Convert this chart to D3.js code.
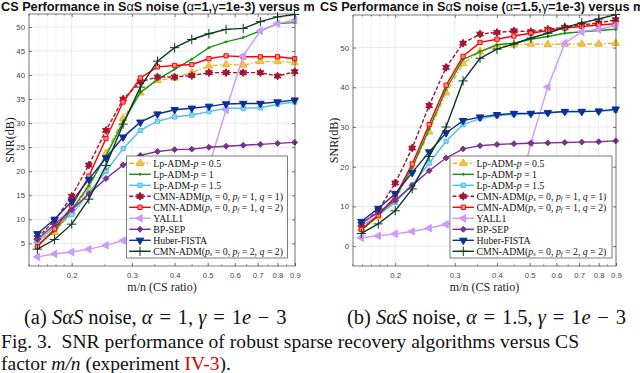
<!DOCTYPE html>
<html>
<head>
<meta charset="utf-8">
<script src="https://cdn.jsdelivr.net/npm/d3@7"></script>
<style>
  body { margin: 0; background: #fff; }
  svg { display: block; }
</style>
</head>
<body>
<svg id="fig" width="640" height="373"></svg>
<script>
// m/n values (CS ratio), shared by both panels
const mn = [0.1587, 0.1782, 0.2, 0.2245, 0.252, 0.2828, 0.3175, 0.3564, 0.4, 0.449, 0.504, 0.5657, 0.635, 0.7127, 0.8, 0.898];
const xTicks = [0.2, 0.3, 0.4, 0.5, 0.6, 0.7, 0.8, 0.9];

// panel (a): alpha = 1
const lp05A  = [5.5, 7.3, 11.5, 16.6, 23.7, 31.0, 36.3, 38.9, 39.4, 40.5, 41.9, 42.2, 42.1, 42.8, 42.8, 42.6];
const lp1A   = [4.6, 7.6, 12.0, 17.0, 23.2, 30.2, 36.4, 39.1, 41.2, 43.3, 45.7, 46.9, 47.8, 49.2, 50.7, 50.9];
const lp15A  = [5.3, 8.5, 11.0, 15.5, 20.0, 24.7, 28.5, 30.4, 31.3, 31.7, 32.4, 33.1, 33.1, 33.2, 33.9, 34.4];
const cmn1A  = [6.2, 9.7, 14.8, 21.3, 28.5, 35.0, 38.6, 39.6, 39.6, 39.9, 40.5, 40.5, 40.5, 40.5, 39.8, 40.7];
const cmn2A  = [4.3, 8.0, 12.7, 19.0, 26.8, 34.4, 39.4, 41.7, 42.0, 42.2, 43.4, 44.0, 43.8, 43.8, 43.8, 43.4];
const yallA  = [2.2, 2.8, 3.2, 3.8, 4.6, 5.6, 6.4, 7.2, 8.0, 9.2, 21.0, 32.8, 44.0, 49.2, 50.7, 51.4];
const bpsepA = [5.8, 9.0, 12.0, 15.3, 18.5, 21.3, 23.3, 24.1, 24.5, 24.6, 25.0, 25.2, 25.4, 25.6, 25.8, 26.0];
const huberA = [7.0, 10.0, 13.7, 18.3, 22.8, 27.1, 30.2, 31.9, 32.8, 33.1, 33.5, 34.0, 34.1, 34.1, 34.4, 34.8];
const cmn22A = [3.8, 5.8, 9.0, 14.2, 21.2, 29.8, 37.5, 42.9, 45.7, 47.4, 48.6, 49.5, 49.7, 51.1, 52.1, 52.6];

// panel (b): alpha = 1.5
const lp05B  = [4.5, 7.4, 11.8, 19.5, 28.8, 38.6, 46.0, 49.0, 50.3, 50.7, 50.9, 50.8, 50.9, 50.9, 50.9, 51.1];
const lp1B   = [4.0, 7.6, 12.3, 19.8, 29.5, 39.5, 47.0, 49.0, 50.7, 51.1, 52.1, 52.8, 53.6, 54.0, 54.3, 54.6];
const lp15B  = [5.0, 7.8, 11.0, 15.4, 20.9, 26.4, 30.6, 32.1, 32.8, 33.2, 33.4, 33.6, 33.8, 33.9, 34.0, 34.2];
const cmn1B  = [5.5, 9.0, 15.9, 24.7, 35.4, 45.0, 51.1, 53.4, 53.8, 54.2, 54.0, 54.6, 55.1, 55.7, 56.2, 57.0];
const cmn2B  = [4.2, 7.8, 12.5, 20.7, 30.6, 40.5, 47.8, 51.3, 52.1, 52.9, 53.6, 54.3, 54.9, 55.3, 55.7, 56.0];
const yallB  = [2.1, 2.6, 3.1, 3.7, 4.5, 5.5, 6.3, 7.0, 7.8, 8.8, 26.0, 40.1, 51.1, 54.0, 54.6, 55.5];
const bpsepB = [5.7, 8.5, 11.5, 15.3, 19.0, 22.2, 24.5, 25.3, 25.6, 25.8, 25.9, 26.0, 26.1, 26.2, 26.3, 26.5];
const huberB = [6.2, 9.5, 13.2, 18.5, 23.7, 28.5, 31.6, 32.5, 33.1, 33.4, 33.4, 33.6, 33.9, 33.9, 34.0, 34.5];
const cmn22B = [3.2, 5.6, 8.9, 14.4, 22.6, 30.0, 41.6, 47.3, 49.6, 50.9, 52.4, 53.6, 55.1, 56.2, 57.2, 58.3];

// six-pointed star, like matlab's hexagram marker
const hexagram = {
  draw(ctx, size) {
    const r = Math.sqrt(size) * 0.72, ri = r * 0.55;
    for (let i = 0; i < 12; i++) {
      const a = Math.PI / 6 * i - Math.PI / 2, rr = i % 2 ? ri : r;
      if (i === 0) ctx.moveTo(rr * Math.cos(a), rr * Math.sin(a));
      else ctx.lineTo(rr * Math.cos(a), rr * Math.sin(a));
    }
    ctx.closePath();
  }
};

// legend order == draw order
const styles = [
  { color: "#EDB120", fill: "#F2C54E", dash: "5,2,1.5,2", sym: d3.symbolTriangle, size: 24, rot: 0 },
  { color: "#159415", fill: "#159415", dash: null, sym: d3.symbolCircle, size: 3, rot: 0 },
  { color: "#4DBEEE", fill: "#8FD6F5", dash: null, sym: d3.symbolSquare, size: 18, rot: 0 },
  { color: "#A2142F", fill: "#A2142F", dash: "4,2", sym: hexagram, size: 30, rot: 0 },
  { color: "#FF0000", fill: "#FF9090", dash: null, sym: d3.symbolSquare, size: 18, rot: 0 },
  { color: "#CC99FF", fill: "#CC99FF", dash: null, sym: d3.symbolTriangle, size: 24, rot: -90 },
  { color: "#7E2F8E", fill: "#7E2F8E", dash: null, sym: d3.symbolDiamond2, size: 22, rot: 0 },
  { color: "#0B2F96", fill: "#0B2F96", dash: null, sym: d3.symbolTriangle, size: 24, rot: 180 },
  { color: "#0B3B1E", fill: "none", dash: null, sym: d3.symbolPlus, size: 30, rot: 0 }
];

// [text, "i"] = italic, [text, "sub"] = italic subscript
const legendLabels = [
  ["Lp-ADM-", ["p", "i"], " = 0.5"],
  ["Lp-ADM-", ["p", "i"], " = 1"],
  ["Lp-ADM-", ["p", "i"], " = 1.5"],
  ["CMN-ADM(", ["p", "i"], ["s", "sub"], " = 0, ", ["p", "i"], ["f", "sub"], " = 1, ", ["q", "i"], " = 1)"],
  ["CMN-ADM(", ["p", "i"], ["s", "sub"], " = 0, ", ["p", "i"], ["f", "sub"], " = 1, ", ["q", "i"], " = 2)"],
  ["YALL1"],
  ["BP-SEP"],
  ["Huber-FISTA"],
  ["CMN-ADM(", ["p", "i"], ["s", "sub"], " = 0, ", ["p", "i"], ["f", "sub"], " = 2, ", ["q", "i"], " = 2)"]
];

const panels = [
  { x0: 29, x1: 295, y0: 14, y1: 266, yDom: [0.3, 52.7], yTicks: d3.range(5, 51, 5),
    clip: [0, 314], titleX: 1, alpha: "1", legX: 126.7, legW: 160.6,
    data: [lp05A, lp1A, lp15A, cmn1A, cmn2A, yallA, bpsepA, huberA, cmn22A] },
  { x0: 353, x1: 616, y0: 15, y1: 266, yDom: [-5, 58.2], yTicks: d3.range(0, 51, 10),
    clip: [318, 640], titleX: 320, alpha: "1.5", legX: 450, legW: 162,
    data: [lp05B, lp1B, lp15B, cmn1B, cmn2B, yallB, bpsepB, huberB, cmn22B] }
];

const svg = d3.select("#fig");
const axisColor = "#262626";
const serif = "'Liberation Serif', 'Times New Roman', serif";
const sans = "'Liberation Sans', Arial, sans-serif";

panels.forEach((p, pi) => {
  const clipId = "clip" + pi;
  svg.append("clipPath").attr("id", clipId)
    .append("rect").attr("x", p.clip[0]).attr("y", 0)
    .attr("width", p.clip[1] - p.clip[0]).attr("height", 300);
  const g = svg.append("g").attr("clip-path", `url(#${clipId})`);

  const x = d3.scaleLog().domain([0.15, 0.9]).range([p.x0, p.x1]);
  const y = d3.scaleLinear().domain(p.yDom).range([p.y1, p.y0]);

  // minor x grid (dotted)
  const xMinor = d3.range(0.15, 0.2, 0.01).concat(d3.range(0.25, 0.9, 0.05))
    .filter(v => !xTicks.some(t => Math.abs(t - v) < 1e-6));
  g.append("g").selectAll("line").data(xMinor).join("line")
    .attr("x1", d => x(d)).attr("x2", d => x(d))
    .attr("y1", p.y0).attr("y2", p.y1)
    .attr("stroke", "#d6d6d6").attr("stroke-width", 0.6).attr("stroke-dasharray", "1,1.5");

  // major grid
  g.append("g").selectAll("line").data(xTicks).join("line")
    .attr("x1", d => x(d)).attr("x2", d => x(d))
    .attr("y1", p.y0).attr("y2", p.y1)
    .attr("stroke", "#e3e3e3").attr("stroke-width", 0.7);
  g.append("g").selectAll("line").data(p.yTicks).join("line")
    .attr("x1", p.x0).attr("x2", p.x1)
    .attr("y1", d => y(d)).attr("y2", d => y(d))
    .attr("stroke", "#e3e3e3").attr("stroke-width", 0.7);

  // series
  const line = d3.line().x((d, i) => x(mn[i])).y(d => y(d));
  p.data.forEach((vals, si) => {
    const s = styles[si];
    const sg = g.append("g");
    sg.append("path").datum(vals).attr("d", line)
      .attr("fill", "none").attr("stroke", s.color).attr("stroke-width", 1.4)
      .attr("stroke-dasharray", s.dash);
    sg.selectAll("path.mk").data(vals).join("path").attr("class", "mk")
      .attr("d", d3.symbol().type(s.sym).size(s.size))
      .attr("transform", (d, i) => `translate(${x(mn[i])},${y(d)}) rotate(${s.rot})`)
      .attr("fill", s.fill).attr("stroke", s.color).attr("stroke-width", 1);
  });

  // axes box
  g.append("rect").attr("x", p.x0).attr("y", p.y0)
    .attr("width", p.x1 - p.x0).attr("height", p.y1 - p.y0)
    .attr("fill", "none").attr("stroke", axisColor).attr("stroke-width", 0.6);

  // ticks (inside), with the d3 axis generators
  const gx = g.append("g").attr("transform", `translate(0,${p.y1})`)
    .call(d3.axisBottom(x).tickValues(xTicks).tickSize(-3).tickFormat(d3.format(".1f")));
  gx.select(".domain").remove();
  gx.selectAll("line").attr("stroke", axisColor).attr("stroke-width", 0.6);
  gx.selectAll("text").attr("y", 6).attr("fill", "#444")
    .style("font", `7.8px ${sans}`);
  const gxt = g.append("g").attr("transform", `translate(0,${p.y0})`)
    .call(d3.axisTop(x).tickValues(xTicks).tickSize(-3).tickFormat(""));
  gxt.select(".domain").remove();
  gxt.selectAll("line").attr("stroke", axisColor).attr("stroke-width", 0.6);
  [p.y1, p.y0].forEach((yy, k) => {
    g.append("g").selectAll("line").data(xMinor).join("line")
      .attr("x1", d => x(d)).attr("x2", d => x(d))
      .attr("y1", yy).attr("y2", k ? yy + 1.6 : yy - 1.6)
      .attr("stroke", axisColor).attr("stroke-width", 0.5);
  });

  const gy = g.append("g").attr("transform", `translate(${p.x0},0)`)
    .call(d3.axisLeft(y).tickValues(p.yTicks).tickSize(-3));
  gy.select(".domain").remove();
  gy.selectAll("line").attr("stroke", axisColor).attr("stroke-width", 0.6);
  gy.selectAll("text").attr("x", -4).attr("fill", "#444")
    .style("font", `7.8px ${sans}`);
  const gyr = g.append("g").attr("transform", `translate(${p.x1},0)`)
    .call(d3.axisRight(y).tickValues(p.yTicks).tickSize(-3).tickFormat(""));
  gyr.select(".domain").remove();
  gyr.selectAll("line").attr("stroke", axisColor).attr("stroke-width", 0.6);

  // axis labels
  g.append("text").attr("x", (p.x0 + p.x1) / 2).attr("y", 291)
    .attr("text-anchor", "middle").attr("fill", "#222")
    .style("font", `12px ${serif}`)
    .text("m/n (CS ratio)");
  g.append("text")
    .attr("transform", `translate(${p.x0 - 15},${(p.y0 + p.y1) / 2}) rotate(-90)`)
    .attr("text-anchor", "middle").attr("fill", "#222")
    .style("font", `12px ${serif}`)
    .text("SNR(dB)");

  // title; the source image crops it just after "versus m"
  const t = g.append("text").attr("x", p.titleX).attr("y", 11).attr("fill", "#111")
    .style("font", `bold 12.7px ${sans}`);
  t.append("tspan").text("CS Performance in S");
  t.append("tspan").attr("font-weight", "normal").text("α");
  t.append("tspan").text("S noise (");
  t.append("tspan").attr("font-weight", "normal").text("α");
  t.append("tspan").text("=" + p.alpha + ",");
  t.append("tspan").attr("font-weight", "normal").text("γ");
  t.append("tspan").text("=1e-3) versus m");

  // legend
  const rowH = 11, legTop = 156;
  const lg = g.append("g");
  lg.append("rect").attr("x", p.legX).attr("y", legTop)
    .attr("width", p.legW).attr("height", rowH * 9 + 3)
    .attr("fill", "#fff").attr("stroke", axisColor).attr("stroke-width", 0.6);
  legendLabels.forEach((parts, i) => {
    const s = styles[i], cy = legTop + 7.3 + i * rowH;
    lg.append("line").attr("x1", p.legX + 2.5).attr("x2", p.legX + 24)
      .attr("y1", cy).attr("y2", cy)
      .attr("stroke", s.color).attr("stroke-width", 1.4).attr("stroke-dasharray", s.dash);
    lg.append("path").attr("d", d3.symbol().type(s.sym).size(s.size)())
      .attr("transform", `translate(${p.legX + 13.3},${cy}) rotate(${s.rot})`)
      .attr("fill", s.fill).attr("stroke", s.color).attr("stroke-width", 1);
    const tx = lg.append("text").attr("x", p.legX + 26.5).attr("y", cy + 3.2)
      .attr("fill", "#111").style("font", `9.8px ${serif}`);
    let low = false;
    parts.forEach(part => {
      const ts = tx.append("tspan");
      if (typeof part === "string") {
        ts.text(part);
        if (low) { ts.attr("dy", -1.8); low = false; }
      } else if (part[1] === "i") {
        ts.attr("font-style", "italic").text(part[0]);
      } else {
        ts.attr("font-style", "italic").attr("font-size", "6.5px").attr("dy", 1.8).text(part[0]);
        low = true;
      }
    });
  });
});

// sub-captions and figure caption (wider spaces mimic the TeX math spacing)
const es = "\u2004";
function rich(xp, yp, size, parts, width) {
  const t = svg.append("text").attr("x", xp).attr("y", yp).attr("fill", "#111")
    .style("font", `${size}px ${serif}`);
  if (width) t.attr("textLength", width).attr("lengthAdjust", "spacing");
  parts.forEach(pt => {
    const ts = t.append("tspan").text(typeof pt === "string" ? pt : pt[0]);
    if (typeof pt !== "string") {
      if (pt[1] === "i") ts.attr("font-style", "italic");
      if (pt[1] === "red") ts.attr("fill", "#e00000");
    }
  });
  return t;
}
rich(24, 324, 20.5, ["(a) ", ["SαS", "i"], " noise, ", ["α", "i"], `${es}=${es}1, `, ["γ", "i"], `${es}=${es}1`, ["e", "i"], `${es}−${es}3`]);
rich(347, 324, 20.5, ["(b) ", ["SαS", "i"], " noise, ", ["α", "i"], `${es}=${es}1.5, `, ["γ", "i"], `${es}=${es}1`, ["e", "i"], `${es}−${es}3`]);
rich(1, 348, 19.5, ["Fig. 3.\u00a0\u00a0SNR performance of robust sparse recovery algorithms versus CS"], 578);
rich(1, 370, 19.5, ["factor ", ["m/n", "i"], " (experiment ", ["IV-3", "red"], ")."]);
</script>
</body>
</html>
